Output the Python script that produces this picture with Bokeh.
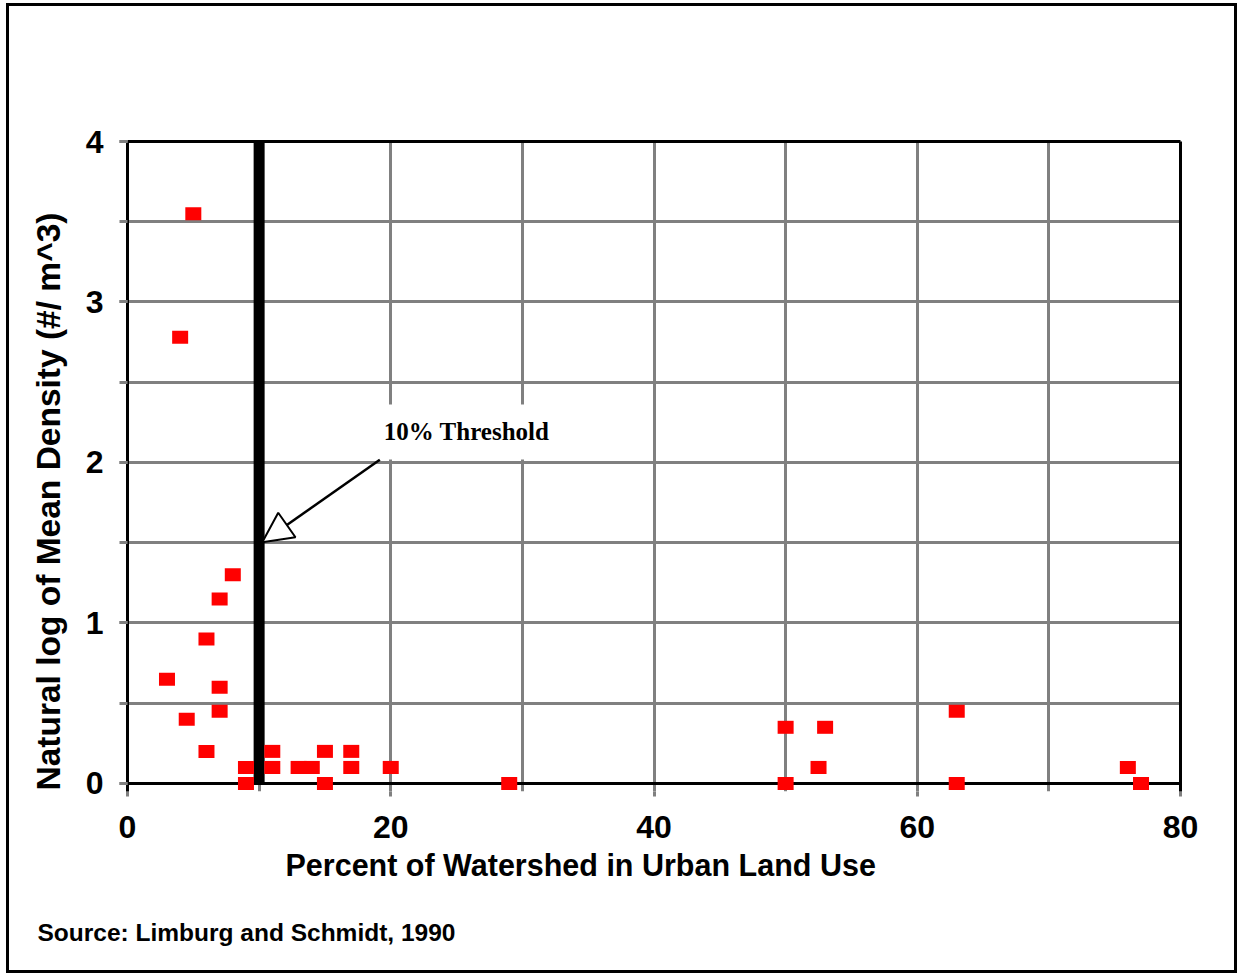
from bokeh.plotting import figure
from bokeh.models import (FixedTicker, Label, Arrow, NormalHead, LinearAxis, Range1d,
                          Grid, Title)
from bokeh.embed import file_html
from bokeh.resources import INLINE

# ---- data ----
urban_pct = [5, 4, 8, 7, 6, 3, 7, 7, 4.5, 6, 9, 9,
             11, 11, 13, 14, 15, 15, 17, 17, 20, 29,
             50, 50, 53, 52.5, 63, 63, 76, 77]
ln_density = [3.55, 2.78, 1.30, 1.15, 0.90, 0.65, 0.60, 0.45, 0.40, 0.20, 0.10, 0.0,
              0.20, 0.10, 0.10, 0.10, 0.20, 0.0, 0.20, 0.10, 0.10, 0.0,
              0.35, 0.0, 0.35, 0.10, 0.45, 0.0, 0.10, 0.0]
x_ticks = [0, 20, 40, 60, 80]
x_minor = [0, 10, 20, 30, 40, 50, 60, 70, 80]
y_ticks = [0, 1, 2, 3, 4]
y_minor = [0, 0.5, 1, 1.5, 2, 2.5, 3, 3.5, 4]
threshold = 10
threshold_text = "10% Threshold"
x_title = "Percent of Watershed in Urban Land Use"
y_title = "Natural log of Mean Density (#/ m^3)"
source_text = "Source: Limburg and Schmidt, 1990"

GRID = "#808080"
FONT = "Liberation Sans"

p = figure(width=1231, height=970, output_backend="svg", toolbar_location=None,
           x_range=Range1d(0, 80), y_range=Range1d(-0.05, 4),
           x_axis_type=None, y_axis_type=None,
           min_border_left=118, min_border_top=135, min_border_right=60,
           min_border_bottom=185)
p.styles = {"border": "3px solid black", "margin": "3px 0px 0px 6px"}
p.outline_line_color = None
p.background_fill_color = "white"
p.border_fill_color = "white"

xaxis = LinearAxis(ticker=FixedTicker(ticks=x_ticks, minor_ticks=x_minor))
yaxis = LinearAxis(ticker=FixedTicker(ticks=y_ticks, minor_ticks=y_minor))
p.add_layout(xaxis, "below")
p.add_layout(yaxis, "left")

for ax in (xaxis, yaxis):
    ax.axis_line_color = "black"
    ax.axis_line_width = 3
    ax.major_tick_line_color = GRID
    ax.major_tick_line_width = 3
    ax.minor_tick_line_color = GRID
    ax.minor_tick_line_width = 3
    ax.major_tick_in = 0
    ax.minor_tick_in = 0
    ax.major_label_text_font = FONT
    ax.major_label_text_font_style = "bold"
    ax.major_label_text_font_size = "32px"
    ax.major_label_text_color = "black"

xaxis.axis_line_color = None
xaxis.major_tick_out = 5
xaxis.minor_tick_out = 0
xaxis.major_label_standoff = 19
yaxis.major_tick_out = 8
yaxis.minor_tick_out = 8
yaxis.major_label_standoff = 16

# top and right borders of the plot area
for place in ("above", "right"):
    p.add_layout(LinearAxis(ticker=FixedTicker(ticks=[]), major_label_text_font_size="0px",
                            major_tick_line_color=None, minor_tick_line_color=None,
                            axis_line_color="black", axis_line_width=3), place)

p.add_layout(Grid(dimension=0, ticker=xaxis.ticker, grid_line_color=GRID, grid_line_width=3,
                  minor_grid_line_color=GRID, minor_grid_line_width=3))
p.add_layout(Grid(dimension=1, ticker=yaxis.ticker, grid_line_color=GRID, grid_line_width=3,
                  minor_grid_line_color=GRID, minor_grid_line_width=3))
# the x axis rule, at y = 0
p.add_layout(Grid(dimension=1, ticker=FixedTicker(ticks=[y_ticks[0]]),
                  grid_line_color="black", grid_line_width=3))

# threshold bar
p.line(x=[threshold, threshold], y=[y_ticks[0], y_ticks[-1]], line_color="black",
       line_width=11, line_cap="butt")

# data points
p.rect(x=urban_pct, y=ln_density, width=16, height=13, width_units="screen",
       height_units="screen", fill_color="#ff0000", line_color=None)

# annotation
p.add_layout(Label(x=25.76, y=2.19, text=threshold_text, text_align="center",
                   text_baseline="middle", text_font="Liberation Serif",
                   text_font_style="bold", text_font_size="25px", text_color="black",
                   background_fill_color="white", padding=14))
p.add_layout(Arrow(x_start=19.17, y_start=2.017, x_end=10.24, y_end=1.503,
                   line_color="black", line_width=2.5,
                   end=NormalHead(size=30, fill_color="white", line_color="black",
                                  line_width=2)))

# axis titles and source
p.add_layout(Title(text=x_title, align="left", offset=158, standoff=11,
                   text_font=FONT, text_font_style="bold", text_font_size="30.5px",
                   text_color="black"), "below")
p.add_layout(Title(text=source_text, align="left", offset=-90, standoff=58,
                   text_font=FONT, text_font_style="bold", text_font_size="24.5px",
                   text_color="black"), "below")
p.add_layout(Title(text=y_title, align="left", offset=1, standoff=31,
                   text_font=FONT, text_font_style="bold", text_font_size="33.5px",
                   text_color="black"), "left")

open("out.html", "w").write(file_html(p, INLINE))
